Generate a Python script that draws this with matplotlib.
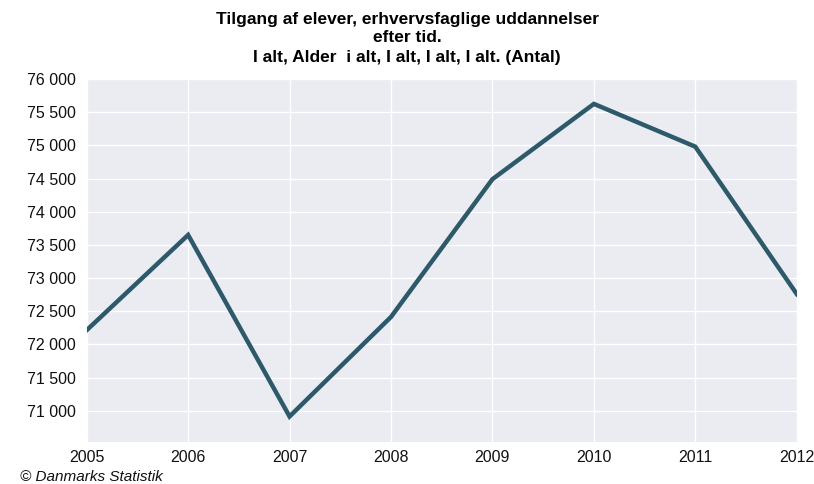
import matplotlib
matplotlib.use("Agg")
import matplotlib.pyplot as plt
from matplotlib.ticker import FuncFormatter

# Tilgang af elever, erhvervsfaglige uddannelser (Antal)
years = [2005, 2006, 2007, 2008, 2009, 2010, 2011, 2012]
students = [72215, 73650, 70915, 72415, 74490, 75625, 74980, 72760]
y_ticks = [71000, 71500, 72000, 72500, 73000, 73500, 74000, 74500, 75000, 75500, 76000]

title_lines = [
    "Tilgang af elever, erhvervsfaglige uddannelser",
    "efter tid.",
    "I alt, Alder  i alt, I alt, I alt, I alt. (Antal)",
]
source = "\u00a9 Danmarks Statistik"

line_color = "#2c5a6a"
bg_color = "#ebecf2"


def thousands(v, pos):
    return f"{int(v):,}".replace(",", " ")


fig = plt.figure(figsize=(8.14, 4.84), dpi=100)
ax = fig.add_axes([0.1065, 0.0874, 0.8723, 0.7494])
ax.set_facecolor(bg_color)

ax.plot(years, students, color=line_color, linewidth=3.2, solid_joinstyle="miter")

ax.set_xticks(years)
ax.set_yticks(y_ticks)
ax.yaxis.set_major_formatter(FuncFormatter(thousands))
ax.set_xlim(2005, 2012)
ax.set_ylim(70535, 76000)

ax.grid(True, color="white", linewidth=1.0)
ax.set_axisbelow(True)
for s in ax.spines.values():
    s.set_visible(False)
ax.tick_params(length=0, labelsize=11.5, colors="#111111", pad=6)
ax.tick_params(axis="y", pad=8)
for lbl in ax.get_xticklabels() + ax.get_yticklabels():
    lbl.set_family("Liberation Sans")

# three title rows, placed one by one
for txt, ypos in zip(title_lines, [0.9587, 0.9215, 0.8822]):
    fig.text(0.5, ypos, txt, ha="center", va="center", fontsize=12.5,
             fontweight="bold", family=["Liberation Sans", "DejaVu Sans"])
fig.text(0.024, 0.0, source, ha="left", va="bottom", fontsize=11,
         style="italic", family=["Liberation Sans", "DejaVu Sans"], color="#111111")

plt.savefig("out.png", dpi=100)
